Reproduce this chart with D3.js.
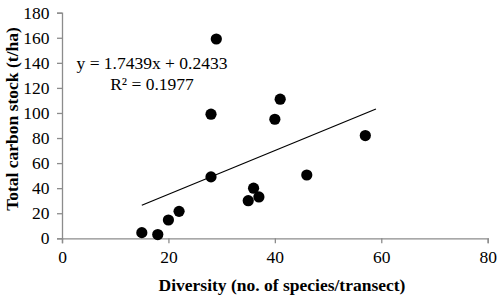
<!DOCTYPE html>
<html>
<head>
<meta charset="utf-8">
<script src="https://cdn.jsdelivr.net/npm/d3@7"></script>
<style>
  body { margin: 0; background: #fff; }
  text { font-family: "Liberation Serif", "Times New Roman", serif; }
</style>
</head>
<body>
<div id="container"></div>
<script>
// data
const diversity = [15, 18, 20, 22, 28, 28, 29, 35, 36, 37, 40, 41, 46, 57];
const carbon    = [4.5, 3, 14.6, 21.5, 49, 99, 159, 30, 40, 33, 95, 111, 50.5, 82];
const xTicks = [0, 20, 40, 60, 80];
const yTicks = [0, 20, 40, 60, 80, 100, 120, 140, 160, 180];
const slope = 1.7439, intercept = 0.2433;
const trendRange = [15, 59];
const equationLines = ["y = 1.7439x + 0.2433", "R² = 0.1977"];

const width = 500, height = 305;
const fontSize = 17.5;

const svg = d3.create("svg")
    .attr("width", width)
    .attr("height", height);

const x = d3.scaleLinear().domain([0, 80]).range([62, 487.7]);
const y = d3.scaleLinear().domain([0, 180]).range([238.3, 12.7]);

const axisColor = "#8c8c8c";

// x axis
const xAxis = svg.append("g")
    .attr("transform", `translate(0,${y(0)})`)
    .call(d3.axisBottom(x).tickValues(xTicks).tickSize(5).tickPadding(6).tickFormat(d3.format("d")));
// y axis
const yAxis = svg.append("g")
    .attr("transform", `translate(${x(0)},0)`)
    .call(d3.axisLeft(y).tickValues(yTicks).tickSize(5).tickPadding(7.5).tickFormat(d3.format("d")));

[xAxis, yAxis].forEach(g => {
    g.select(".domain").attr("stroke", axisColor).attr("stroke-width", 1.3);
    g.selectAll(".tick line").attr("stroke", axisColor).attr("stroke-width", 1.3);
    g.selectAll(".tick text")
        .attr("fill", "#000")
        .attr("font-size", fontSize)
        .attr("font-family", "Liberation Serif, Times New Roman, serif");
});
xAxis.selectAll(".tick text").attr("dy", "0.8em");

// trendline
svg.append("line")
    .attr("x1", x(trendRange[0]))
    .attr("y1", y(slope * trendRange[0] + intercept))
    .attr("x2", x(trendRange[1]))
    .attr("y2", y(slope * trendRange[1] + intercept))
    .attr("stroke", "#000")
    .attr("stroke-width", 1.2);

// points
svg.append("g").selectAll("circle")
    .data(diversity.map((d, i) => [d, carbon[i]]))
    .join("circle")
    .attr("cx", d => x(d[0]))
    .attr("cy", d => y(d[1]))
    .attr("r", 5.6)
    .attr("fill", "#000");

// equation
svg.append("g").selectAll("text")
    .data(equationLines)
    .join("text")
    .attr("x", 152)
    .attr("y", (d, i) => 69 + i * 21)
    .attr("text-anchor", "middle")
    .attr("font-size", fontSize)
    .text(d => d);

// axis titles
svg.append("text")
    .attr("x", 282)
    .attr("y", 291)
    .attr("text-anchor", "middle")
    .attr("font-weight", "bold")
    .attr("font-size", fontSize)
    .text("Diversity (no. of species/transect)");

svg.append("text")
    .attr("transform", `translate(18,119) rotate(-90)`)
    .attr("text-anchor", "middle")
    .attr("font-weight", "bold")
    .attr("font-size", fontSize)
    .text("Total carbon stock (t/ha)");

document.getElementById("container").append(svg.node());
</script>
</body>
</html>
